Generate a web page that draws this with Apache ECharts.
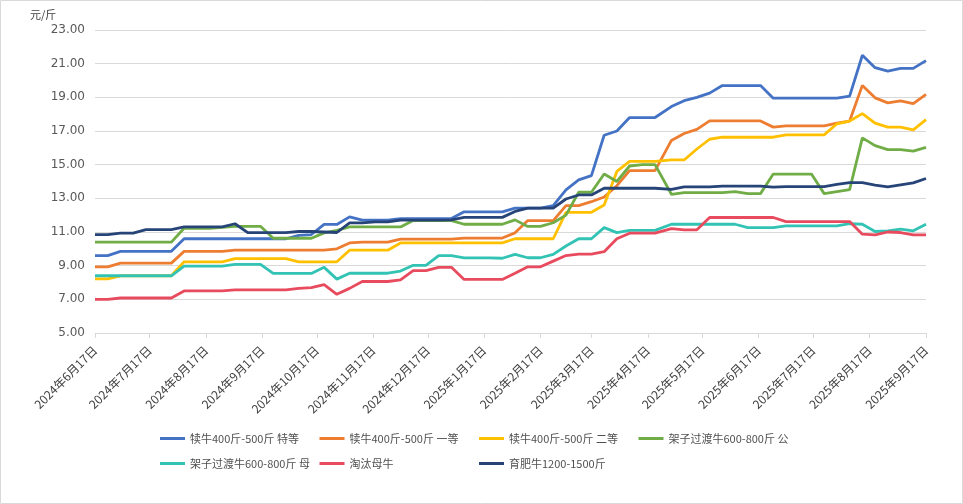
<!DOCTYPE html>
<html>
<head>
<meta charset="utf-8">
<script src="https://cdn.jsdelivr.net/npm/echarts@6/dist/echarts.min.js"></script>
<style>
html,body{margin:0;padding:0;background:#fff;}
#c{width:963px;height:504px;}
</style>
</head>
<body>
<div id="c"></div>
<script>
// Observation dates (weekly)
var dates = [
'2024-06-17','2024-06-24','2024-07-01','2024-07-08','2024-07-15','2024-07-22','2024-07-29',
'2024-08-05','2024-08-12','2024-08-19','2024-08-26','2024-09-02','2024-09-09','2024-09-16',
'2024-09-23','2024-09-30','2024-10-07','2024-10-14','2024-10-21','2024-10-28','2024-11-04',
'2024-11-11','2024-11-18','2024-11-25','2024-12-02','2024-12-09','2024-12-16','2024-12-23',
'2024-12-30','2025-01-06','2025-01-13','2025-01-20','2025-01-27','2025-02-03','2025-02-10',
'2025-02-17','2025-02-24','2025-03-03','2025-03-10','2025-03-17','2025-03-24','2025-03-31',
'2025-04-07','2025-04-14','2025-04-21','2025-04-30','2025-05-07','2025-05-14','2025-05-21',
'2025-05-28','2025-06-04','2025-06-11','2025-06-18','2025-06-25','2025-07-02','2025-07-09',
'2025-07-16','2025-07-23','2025-07-30','2025-08-06','2025-08-13','2025-08-20','2025-08-27',
'2025-09-03','2025-09-10','2025-09-17'
];
// Tick labels (17th of each month)
var tickDates = [
'2024-06-17','2024-07-17','2024-08-17','2024-09-17','2024-10-17','2024-11-17','2024-12-17',
'2025-01-17','2025-02-17','2025-03-17','2025-04-17','2025-05-17','2025-06-17','2025-07-17',
'2025-08-17','2025-09-17'
];
var seriesNames = ['犊牛400斤-500斤 特等','犊牛400斤-500斤 一等','犊牛400斤-500斤 二等','架子过渡牛600-800斤 公','架子过渡牛600-800斤 母','淘汰母牛','育肥牛1200-1500斤'];

var calfSpecial = [9.6,9.6,9.85,9.85,9.85,9.85,9.85,10.6,10.6,10.6,10.6,10.6,10.6,10.6,10.6,10.6,10.8,10.85,11.45,11.45,
11.9,11.7,11.7,11.7,11.8,11.8,11.8,11.8,11.8,12.2,12.2,12.2,12.2,12.42,12.42,12.42,12.56,13.5,14.1,14.35,
16.75,17.0,17.8,17.8,17.8,18.45,18.8,19.0,19.25,19.7,19.7,19.7,19.7,18.95,18.95,18.95,18.95,18.95,18.95,19.07,
21.5,20.76,20.56,20.72,20.72,21.18];
var calfFirst = [8.93,8.93,9.15,9.15,9.15,9.15,9.15,9.85,9.85,9.85,9.85,9.92,9.92,9.92,9.92,9.92,9.92,9.92,9.92,10.0,
10.35,10.4,10.4,10.4,10.58,10.58,10.58,10.58,10.58,10.64,10.64,10.64,10.64,10.95,11.68,11.68,11.68,12.57,12.57,12.8,
13.08,13.75,14.65,14.65,14.65,16.44,16.85,17.1,17.6,17.6,17.6,17.6,17.6,17.23,17.31,17.31,17.31,17.31,17.47,17.59,
19.71,18.97,18.67,18.79,18.63,19.17];
var calfSecond = [8.22,8.22,8.4,8.4,8.4,8.4,8.4,9.23,9.23,9.23,9.23,9.42,9.42,9.42,9.42,9.42,9.23,9.23,9.23,9.23,
9.92,9.92,9.92,9.92,10.35,10.35,10.35,10.35,10.35,10.35,10.35,10.35,10.35,10.6,10.6,10.6,10.6,12.17,12.17,12.17,
12.6,14.6,15.2,15.2,15.2,15.28,15.28,15.93,16.51,16.63,16.63,16.63,16.63,16.63,16.77,16.77,16.77,16.77,17.43,17.59,
18.03,17.47,17.23,17.23,17.07,17.67];
var stockerBull = [10.4,10.4,10.4,10.4,10.4,10.4,10.4,11.22,11.22,11.22,11.28,11.34,11.34,11.34,10.63,10.63,10.63,10.63,10.95,11.1,
11.3,11.3,11.3,11.3,11.3,11.68,11.68,11.68,11.68,11.46,11.46,11.46,11.46,11.72,11.33,11.33,11.55,12.0,13.36,13.36,
14.45,14.0,14.92,15.0,15.0,13.24,13.34,13.34,13.34,13.34,13.4,13.28,13.28,14.44,14.44,14.44,14.44,13.28,13.4,13.52,
16.59,16.13,15.89,15.89,15.81,16.03];
var stockerCow = [8.4,8.4,8.4,8.4,8.4,8.4,8.4,8.97,8.97,8.97,8.97,9.08,9.08,9.08,8.54,8.54,8.54,8.54,8.9,8.2,
8.55,8.55,8.55,8.55,8.68,9.02,9.02,9.6,9.6,9.46,9.46,9.46,9.44,9.67,9.47,9.47,9.67,10.17,10.6,10.6,
11.26,10.96,11.1,11.1,11.1,11.46,11.46,11.46,11.46,11.46,11.46,11.26,11.26,11.26,11.36,11.36,11.36,11.36,11.36,11.5,
11.46,11.03,11.07,11.17,11.07,11.46];
var culledCow = [7.0,7.0,7.08,7.08,7.08,7.08,7.08,7.5,7.5,7.5,7.5,7.56,7.56,7.56,7.56,7.56,7.65,7.7,7.88,7.3,
7.65,8.06,8.06,8.06,8.16,8.7,8.7,8.9,8.9,8.18,8.18,8.18,8.18,8.55,8.93,8.93,9.27,9.6,9.69,9.69,
9.83,10.6,10.93,10.93,10.93,11.2,11.13,11.13,11.86,11.86,11.86,11.86,11.86,11.86,11.62,11.62,11.62,11.62,11.62,11.62,
10.87,10.83,11.0,10.97,10.83,10.83];
var finishing = [10.84,10.84,10.93,10.93,11.14,11.14,11.14,11.3,11.3,11.3,11.3,11.49,10.96,10.96,10.96,10.96,11.03,11.03,11.0,10.97,
11.54,11.54,11.6,11.6,11.7,11.7,11.7,11.7,11.72,11.87,11.87,11.87,11.87,12.22,12.42,12.42,12.42,12.96,13.2,13.2,
13.6,13.6,13.6,13.6,13.6,13.53,13.68,13.68,13.68,13.72,13.72,13.72,13.72,13.66,13.7,13.7,13.7,13.7,13.83,13.93,
13.93,13.79,13.68,13.8,13.92,14.18];

var colors = ['#4472C4','#ED7D31','#FFC000','#70AD47','#33C3B4','#E84B5E','#264478'];
var allValues = [calfSpecial, calfFirst, calfSecond, stockerBull, stockerCow, culledCow, finishing];

function ts(s){ var p = s.split('-'); return new Date(+p[0], +p[1]-1, +p[2]).getTime(); }
var tickTs = tickDates.map(ts);

var series = seriesNames.map(function(n, i){
  return {
    name: n, type: 'line', showSymbol: false, symbol: 'none',
    lineStyle: {width: 2.8, color: colors[i]},
    itemStyle: {color: colors[i]},
    data: dates.map(function(d, k){ return [ts(d), allValues[i][k]]; })
  };
});

var legends = seriesNames.map(function(n, i){
  var row = i < 4 ? 0 : 1;
  var col = i < 4 ? i : i - 4;
  return {
    data: [n], left: 155 + col * 159.5, top: row === 0 ? 428 : 453,
    icon: 'rect', itemWidth: 25, itemHeight: 3, itemGap: 0,
    textStyle: {color: '#505050', fontSize: 11, fontFamily: 'Noto Sans CJK SC'},
    selectedMode: false
  };
});

var chart = echarts.init(document.getElementById('c'));
chart.setOption({
  animation: false,
  color: colors,
  grid: {left: 95, right: 37, top: 30, bottom: 171, containLabel: false},
  graphic: [
    {type: 'rect', shape: {x: 0.5, y: 0.5, width: 962, height: 503}, style: {fill: 'none', stroke: '#d9d9d9', lineWidth: 1}, silent: true},
    {type: 'text', left: 30, top: 9, style: {text: '元/斤', fill: '#404040', font: '11px "Noto Sans CJK SC"'}}
  ],
  legend: legends,
  xAxis: {
    type: 'value',
    min: ts('2024-06-17'), max: ts('2025-09-17'),
    splitLine: {show: false},
    axisLine: {show: true, lineStyle: {color: '#d9d9d9', width: 1}},
    axisTick: {show: true, customValues: tickTs, length: 5, lineStyle: {color: '#d9d9d9'}},
    axisLabel: {
      customValues: tickTs, rotate: 45, margin: 15,
      color: '#404040', fontSize: 12, fontFamily: 'Noto Sans CJK SC',
      formatter: function(v){ var d = new Date(v); return d.getFullYear() + '年' + (d.getMonth()+1) + '月' + d.getDate() + '日'; }
    }
  },
  yAxis: {
    type: 'value', min: 5, max: 23, interval: 2,
    axisLine: {show: false}, axisTick: {show: false},
    splitLine: {lineStyle: {color: '#d9d9d9', width: 1}},
    axisLabel: {color: '#595959', fontSize: 12, margin: 10, fontFamily: 'DejaVu Sans', formatter: function(v){ return v.toFixed(2); }}
  },
  series: series
});
</script>
</body>
</html>
